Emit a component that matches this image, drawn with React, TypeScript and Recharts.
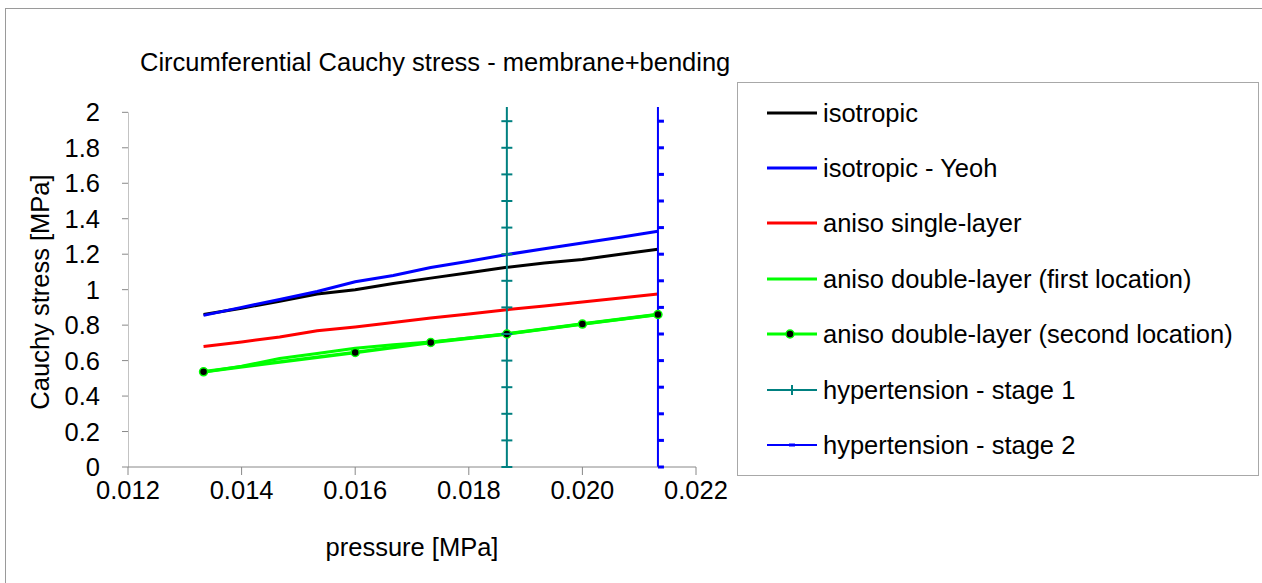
import React from 'react';
import { LineChart, Line, XAxis, YAxis, Legend } from 'recharts';

// pressure [MPa] (100..160 mmHg)
const pressure = [0.01333, 0.014, 0.01467, 0.01533, 0.016, 0.01667, 0.01733, 0.018, 0.01867, 0.01933, 0.02, 0.02067, 0.02133];
const isotropic = [0.86, 0.895, 0.935, 0.975, 1.0, 1.035, 1.065, 1.095, 1.126, 1.15, 1.17, 1.2, 1.228];
const isotropicYeoh = [0.855, 0.9, 0.945, 0.99, 1.045, 1.08, 1.125, 1.16, 1.198, 1.231, 1.263, 1.296, 1.329];
const anisoSingle = [0.68, 0.705, 0.733, 0.768, 0.79, 0.815, 0.84, 0.863, 0.887, 0.908, 0.93, 0.953, 0.976];
const anisoDoubleFirst = [0.535, 0.568, 0.612, 0.64, 0.67, 0.69, 0.705, 0.728, 0.75, 0.778, 0.806, 0.833, 0.86];
const pressureSecond = [0.01333, 0.016, 0.01733, 0.01867, 0.02, 0.02133];
const anisoDoubleSecond = [0.537, 0.646, 0.702, 0.75, 0.806, 0.86];
const stage1Pressure = 0.01867;
const stage2Pressure = 0.02133;
const stageStress = [0, 0.15, 0.3, 0.45, 0.6, 0.75, 0.9, 1.05, 1.2, 1.35, 1.5, 1.65, 1.8, 1.95, 2.03];
const xTicks = [0.012, 0.014, 0.016, 0.018, 0.02, 0.022];
const yTicks = [0, 0.2, 0.4, 0.6, 0.8, 1, 1.2, 1.4, 1.6, 1.8, 2];
const axisX = [0.012, 0.012];
const axisY = [0, 2];

const seriesNames = [
  'isotropic',
  'isotropic - Yeoh',
  'aniso single-layer',
  'aniso double-layer (first location)',
  'aniso double-layer (second location)',
  'hypertension - stage 1',
  'hypertension - stage 2',
];

const toPoints = (xs: number[], ys: number[]) => xs.map((x, i) => ({ x, y: ys[i] }));
const constPoints = (x: number, ys: number[]) => ys.map((y) => ({ x, y }));

const FONT = '"Liberation Sans", Arial, sans-serif';
const FS = 25.5;
const TEAL = '#008080';
const GREEN = '#00ff00';
const BLUE = '#0000ff';
const AXIS = '#888888';

const stage1Dot = (props: any) => {
  const { cx, cy, index } = props;
  if (index >= 14 || cx == null) return <g key={`s1-${index}`} />;
  return <line key={`s1-${index}`} x1={cx - 5.5} x2={cx + 5.5} y1={cy} y2={cy} stroke={TEAL} strokeWidth={2} />;
};
const stage2Dot = (props: any) => {
  const { cx, cy, index } = props;
  if (index >= 14 || cx == null) return <g key={`s2-${index}`} />;
  return <rect key={`s2-${index}`} x={cx} y={cy - 1.5} width={6} height={3} fill={BLUE} />;
};

const LegendIcon = ({ name, color }: { name: string; color: string }) => {
  const idx = seriesNames.indexOf(name);
  if (idx === 5) {
    return (
      <svg width={50} height={14}>
        <line x1={0} x2={50} y1={7} y2={7} stroke={color} strokeWidth={2} />
        <line x1={25} x2={25} y1={2} y2={12} stroke={color} strokeWidth={2} />
      </svg>
    );
  }
  if (idx === 6) {
    return (
      <svg width={50} height={14}>
        <line x1={0} x2={50} y1={7} y2={7} stroke={color} strokeWidth={2} />
        <rect x={22} y={5.5} width={6} height={3} fill={color} />
      </svg>
    );
  }
  return (
    <svg width={50} height={14}>
      <line x1={0} x2={50} y1={7} y2={7} stroke={color} strokeWidth={3} />
      {idx === 4 && <circle cx={23} cy={7} r={4} fill="#000" stroke={GREEN} strokeWidth={1.5} />}
    </svg>
  );
};

const renderLegend = (props: any) => {
  const payload = (props.payload || [])
    .filter((e: any) => seriesNames.indexOf(e.value) >= 0)
    .sort((a: any, b: any) => seriesNames.indexOf(a.value) - seriesNames.indexOf(b.value));
  return (
    <div
      style={{
        boxSizing: 'border-box',
        width: 522,
        height: 394,
        border: '1px solid #a8a8a8',
        background: '#fff',
        paddingTop: 2,
        paddingLeft: 29,
        fontFamily: FONT,
        fontSize: FS,
        color: '#000',
      }}
    >
      {payload.map((entry: any) => (
        <div key={entry.value} style={{ display: 'flex', alignItems: 'center', height: 55.4, whiteSpace: 'nowrap' }}>
          <LegendIcon name={entry.value} color={entry.color} />
          <span style={{ marginLeft: 6, lineHeight: '26px' }}>{entry.value}</span>
        </div>
      ))}
    </div>
  );
};

export default function App() {
  return (
    <div style={{ position: 'absolute', left: 0, top: 0, width: 1262, height: 583, overflow: 'hidden', background: '#fff' }}>
      <div
        style={{
          position: 'absolute',
          left: 5,
          top: 8,
          width: 1270,
          height: 590,
          border: '1px solid #9a9a9a',
          boxSizing: 'border-box',
        }}
      />
      <div style={{ position: 'absolute', left: 0, top: 0 }}>
        <LineChart width={1262} height={583} margin={{ top: 107, right: 566, left: 68, bottom: 56 }}>
          <XAxis
            dataKey="x"
            type="number"
            domain={[0.012, 0.022]}
            ticks={xTicks}
            tickFormatter={(v: number) => v.toFixed(3)}
            height={60}
            tickSize={8}
            tickMargin={6}
            stroke={AXIS}
            tick={{ fill: '#000', fontSize: FS, fontFamily: FONT }}
            allowDataOverflow
          />
          <YAxis
            type="number"
            domain={[0, 2.03]}
            ticks={yTicks}
            width={60}
            tickSize={6}
            tickMargin={22}
            axisLine={false}
            stroke={AXIS}
            tick={{ fill: '#000', fontSize: FS, fontFamily: FONT }}
          />
          <Legend
            layout="vertical"
            align="center"
            verticalAlign="middle"
            content={renderLegend}
            wrapperStyle={{ left: 737, top: 82, width: 522, height: 394 }}
          />
          <Line
            name="y-axis line"
            legendType="none"
            data={toPoints(axisX, axisY)}
            dataKey="y"
            stroke={AXIS}
            strokeWidth={1}
            dot={false}
            isAnimationActive={false}
          />
          <Line name={seriesNames[0]} data={toPoints(pressure, isotropic)} dataKey="y" stroke="#000000" strokeWidth={3} dot={false} isAnimationActive={false} />
          <Line name={seriesNames[1]} data={toPoints(pressure, isotropicYeoh)} dataKey="y" stroke={BLUE} strokeWidth={3} dot={false} isAnimationActive={false} />
          <Line name={seriesNames[2]} data={toPoints(pressure, anisoSingle)} dataKey="y" stroke="#ff0000" strokeWidth={3} dot={false} isAnimationActive={false} />
          <Line name={seriesNames[3]} data={toPoints(pressure, anisoDoubleFirst)} dataKey="y" stroke={GREEN} strokeWidth={3} dot={false} isAnimationActive={false} />
          <Line
            name={seriesNames[4]}
            data={toPoints(pressureSecond, anisoDoubleSecond)}
            dataKey="y"
            stroke={GREEN}
            strokeWidth={3.5}
            dot={{ r: 4, fill: '#000', stroke: GREEN, strokeWidth: 1.5 }}
            isAnimationActive={false}
          />
          <Line name={seriesNames[5]} data={constPoints(stage1Pressure, stageStress)} dataKey="y" stroke={TEAL} strokeWidth={2} dot={stage1Dot} isAnimationActive={false} />
          <Line name={seriesNames[6]} data={constPoints(stage2Pressure, stageStress)} dataKey="y" stroke={BLUE} strokeWidth={2} dot={stage2Dot} isAnimationActive={false} />
        </LineChart>
      </div>
      <svg width={1262} height={583} style={{ position: 'absolute', left: 0, top: 0, pointerEvents: 'none' }}>
        <text x={140} y={71} fontFamily={FONT} fontSize={FS} fill="#000">
          Circumferential Cauchy stress - membrane+bending
        </text>
        <text x={412} y={556} fontFamily={FONT} fontSize={FS} fill="#000" textAnchor="middle">
          pressure [MPa]
        </text>
        <text x={49} y={292} fontFamily={FONT} fontSize={FS} fill="#000" textAnchor="middle" transform="rotate(-90 49 292)">
          Cauchy stress [MPa]
        </text>
      </svg>
    </div>
  );
}
